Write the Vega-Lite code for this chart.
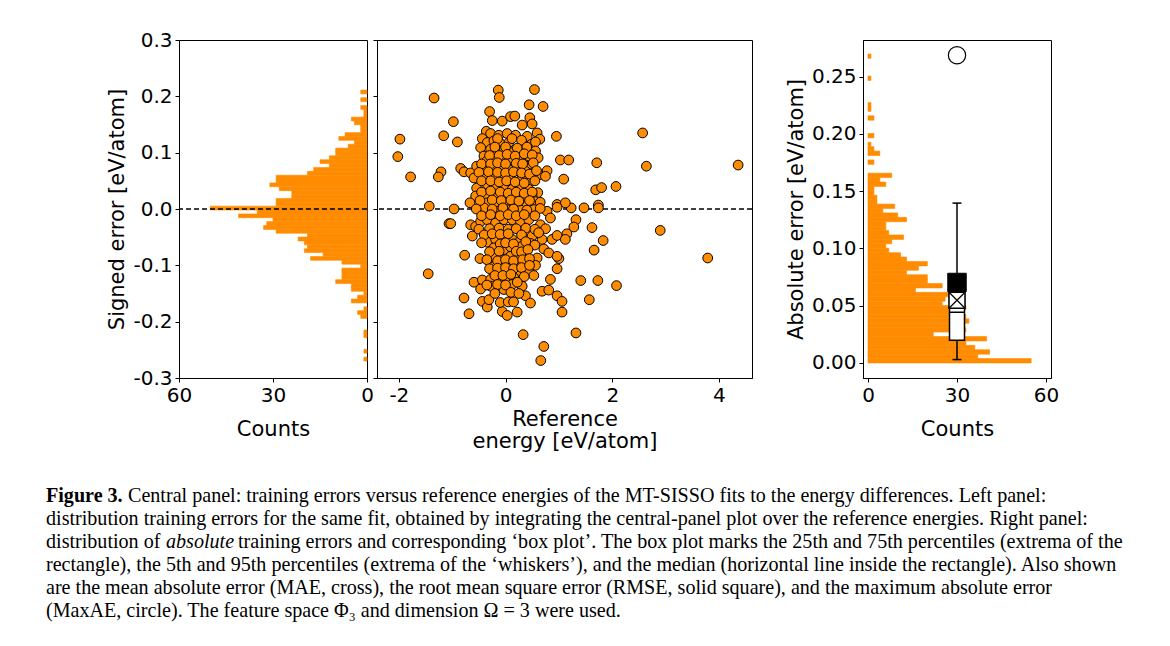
{
"$schema": "https://vega.github.io/schema/vega-lite/v6.json",
"background": "white",
"padding": {"left": 46, "top": 29, "right": 5, "bottom": 5},
"datasets": {
"sig": [
{"b0":0.2043,"b1":0.2112,"n":2},{"b0":0.1906,"b1":0.1975,"n":2},{"b0":0.1768,"b1":0.1837,"n":2},{"b0":0.1700,"b1":0.1768,"n":1},{"b0":0.1631,"b1":0.1700,"n":1},
{"b0":0.1562,"b1":0.1631,"n":5},{"b0":0.1494,"b1":0.1562,"n":4},{"b0":0.1425,"b1":0.1494,"n":2},{"b0":0.1356,"b1":0.1425,"n":2},{"b0":0.1287,"b1":0.1356,"n":7},
{"b0":0.1219,"b1":0.1287,"n":9},{"b0":0.1150,"b1":0.1219,"n":4},{"b0":0.1081,"b1":0.1150,"n":6},{"b0":0.1013,"b1":0.1081,"n":10},{"b0":0.0944,"b1":0.1013,"n":10},
{"b0":0.0875,"b1":0.0944,"n":12},{"b0":0.0807,"b1":0.0875,"n":15},{"b0":0.0738,"b1":0.0807,"n":12},{"b0":0.0669,"b1":0.0738,"n":17},{"b0":0.0600,"b1":0.0669,"n":19},
{"b0":0.0532,"b1":0.0600,"n":29},{"b0":0.0463,"b1":0.0532,"n":29},{"b0":0.0394,"b1":0.0463,"n":31},{"b0":0.0326,"b1":0.0394,"n":28},{"b0":0.0257,"b1":0.0326,"n":24},
{"b0":0.0188,"b1":0.0257,"n":24},{"b0":0.0119,"b1":0.0188,"n":29},{"b0":0.0051,"b1":0.0119,"n":29},{"b0":-0.0018,"b1":0.0051,"n":50},{"b0":-0.0087,"b1":-0.0018,"n":35},
{"b0":-0.0155,"b1":-0.0087,"n":41},{"b0":-0.0224,"b1":-0.0155,"n":30},{"b0":-0.0293,"b1":-0.0224,"n":32},{"b0":-0.0362,"b1":-0.0293,"n":33},{"b0":-0.0430,"b1":-0.0362,"n":29},
{"b0":-0.0499,"b1":-0.0430,"n":19},{"b0":-0.0568,"b1":-0.0499,"n":22},{"b0":-0.0636,"b1":-0.0568,"n":20},{"b0":-0.0705,"b1":-0.0636,"n":19},{"b0":-0.0774,"b1":-0.0705,"n":20},
{"b0":-0.0842,"b1":-0.0774,"n":14},{"b0":-0.0911,"b1":-0.0842,"n":18},{"b0":-0.0980,"b1":-0.0911,"n":8},{"b0":-0.1049,"b1":-0.0980,"n":2},{"b0":-0.1117,"b1":-0.1049,"n":8},
{"b0":-0.1186,"b1":-0.1117,"n":8},{"b0":-0.1255,"b1":-0.1186,"n":8},{"b0":-0.1323,"b1":-0.1255,"n":10},{"b0":-0.1392,"b1":-0.1323,"n":5},{"b0":-0.1461,"b1":-0.1392,"n":5},
{"b0":-0.1530,"b1":-0.1461,"n":1},{"b0":-0.1598,"b1":-0.1530,"n":3},{"b0":-0.1667,"b1":-0.1598,"n":5},{"b0":-0.1804,"b1":-0.1736,"n":1},{"b0":-0.1873,"b1":-0.1804,"n":3},
{"b0":-0.1942,"b1":-0.1873,"n":2},{"b0":-0.2217,"b1":-0.2148,"n":1},{"b0":-0.2285,"b1":-0.2217,"n":1},{"b0":-0.2560,"b1":-0.2491,"n":1},{"b0":-0.2698,"b1":-0.2629,"n":1}
],
"abs": [
{"b0":0,"b1":0.00385,"n":55},{"b0":0.00385,"b1":0.00771,"n":37},{"b0":0.00771,"b1":0.01156,"n":41},{"b0":0.01156,"b1":0.01542,"n":36},{"b0":0.01542,"b1":0.01927,"n":33},
{"b0":0.01927,"b1":0.02312,"n":40},{"b0":0.02312,"b1":0.02698,"n":22},{"b0":0.02698,"b1":0.03083,"n":33},{"b0":0.03083,"b1":0.03469,"n":32},{"b0":0.03469,"b1":0.03854,"n":34},
{"b0":0.03854,"b1":0.04239,"n":33},{"b0":0.04239,"b1":0.04625,"n":29},{"b0":0.04625,"b1":0.05010,"n":33},{"b0":0.05010,"b1":0.05396,"n":25},{"b0":0.05396,"b1":0.05781,"n":26},
{"b0":0.05781,"b1":0.06166,"n":29},{"b0":0.06166,"b1":0.06552,"n":16},{"b0":0.06552,"b1":0.06937,"n":25},{"b0":0.06937,"b1":0.07323,"n":20},{"b0":0.07323,"b1":0.07708,"n":20},
{"b0":0.07708,"b1":0.08093,"n":13},{"b0":0.08093,"b1":0.08479,"n":17},{"b0":0.08479,"b1":0.08864,"n":20},{"b0":0.08864,"b1":0.09250,"n":13},{"b0":0.09250,"b1":0.09635,"n":11},
{"b0":0.09635,"b1":0.10020,"n":7},{"b0":0.10020,"b1":0.10406,"n":6},{"b0":0.10406,"b1":0.10791,"n":8},{"b0":0.10791,"b1":0.11177,"n":12},{"b0":0.11177,"b1":0.11562,"n":7},
{"b0":0.11562,"b1":0.11947,"n":6},{"b0":0.11947,"b1":0.12333,"n":6},{"b0":0.12333,"b1":0.12718,"n":13},{"b0":0.12718,"b1":0.13104,"n":10},{"b0":0.13104,"b1":0.13489,"n":5},
{"b0":0.13489,"b1":0.13874,"n":9},{"b0":0.13874,"b1":0.14260,"n":3},{"b0":0.14260,"b1":0.14645,"n":3},{"b0":0.14645,"b1":0.15031,"n":2},{"b0":0.15031,"b1":0.15416,"n":2},
{"b0":0.15416,"b1":0.15801,"n":6},{"b0":0.15801,"b1":0.16187,"n":4},{"b0":0.16187,"b1":0.16572,"n":8},{"b0":0.17343,"b1":0.17728,"n":2},{"b0":0.18114,"b1":0.18499,"n":4},
{"b0":0.18499,"b1":0.18885,"n":2},{"b0":0.18885,"b1":0.19270,"n":1},{"b0":0.19655,"b1":0.20041,"n":2},{"b0":0.21197,"b1":0.21582,"n":2},{"b0":0.21968,"b1":0.22353,"n":1},
{"b0":0.22353,"b1":0.22739,"n":1},{"b0":0.24666,"b1":0.25051,"n":1},{"b0":0.26593,"b1":0.26978,"n":1}
],
"stats": [{"p05":0.003,"q1":0.0198,"med":0.0443,"q3":0.072,"p95":0.1396,"mae":0.0548,"rmse":0.0703,"maxae":0.2687}],
"pts": [
{"e":-2.02,"s":0.093},{"e":-1.98,"s":0.124},{"e":-1.78,"s":0.057},{"e":-1.43,"s":0.005},{"e":-1.34,"s":0.197},{"e":-1.16,"s":0.130},{"e":-1.21,"s":0.066},{"e":-1.26,"s":0.057},{"e":-1.06,"s":-0.026},{"e":-1.45,"s":-0.115},
{"e":1.71,"s":0.082},{"e":1.69,"s":0.034},{"e":1.80,"s":0.038},{"e":2.07,"s":0.040},{"e":2.57,"s":0.135},{"e":2.64,"s":0.076},{"e":4.36,"s":0.078},{"e":2.90,"s":-0.038},{"e":1.23,"s":0.002},{"e":1.47,"s":0.002},
{"e":1.74,"s":0.007},{"e":1.74,"s":0.002},{"e":1.32,"s":-0.019},{"e":1.28,"s":-0.032},{"e":1.62,"s":-0.033},{"e":1.83,"s":-0.056},{"e":1.32,"s":-0.220},{"e":1.57,"s":-0.161},{"e":2.08,"s":-0.136},{"e":1.41,"s":-0.127},
{"e":1.73,"s":-0.127},{"e":1.66,"s":-0.073},{"e":3.79,"s":-0.087},{"e":0.66,"s":-0.269},{"e":1.15,"s":-0.044},{"e":1.0,"s":-0.088},
{"e":-0.137,"s":0.211},{"e":-0.118,"s":0.198},{"e":0.542,"s":0.212},{"e":0.442,"s":0.185},{"e":0.704,"s":0.182},{"e":-0.299,"s":0.173},{"e":-0.978,"s":0.155},{"e":-0.249,"s":0.157},{"e":-0.062,"s":0.156},{"e":0.093,"s":0.164},
{"e":0.174,"s":0.165},{"e":0.312,"s":0.149},{"e":0.455,"s":0.162},{"e":0.498,"s":0.151},{"e":0.953,"s":0.129},{"e":0.592,"s":0.135},{"e":0.642,"s":0.124},{"e":-0.903,"s":0.119},{"e":-0.361,"s":0.138},{"e":-0.280,"s":0.134},
{"e":-0.125,"s":0.131},{"e":0.031,"s":0.134},{"e":0.187,"s":0.131},{"e":0.405,"s":0.129},{"e":-0.436,"s":0.125},{"e":-0.343,"s":0.118},{"e":-0.218,"s":0.121},{"e":-0.093,"s":0.116},{"e":0.062,"s":0.118},{"e":0.330,"s":0.114},
{"e":0.486,"s":0.115},{"e":0.561,"s":0.119},{"e":-0.467,"s":0.109},{"e":-0.280,"s":0.106},{"e":-0.156,"s":0.102},{"e":-0.031,"s":0.106},{"e":0.125,"s":0.100},{"e":0.280,"s":0.091},{"e":0.436,"s":0.094},{"e":0.561,"s":0.103},
{"e":-0.405,"s":0.094},{"e":-0.218,"s":0.088},{"e":-0.062,"s":0.091},{"e":0.093,"s":0.085},{"e":-0.355,"s":0.085},{"e":0.436,"s":0.076},{"e":0.611,"s":0.091},{"e":1.028,"s":0.087},{"e":1.184,"s":0.087},{"e":-0.841,"s":0.072},
{"e":-0.779,"s":0.066},{"e":-0.654,"s":0.064},{"e":-0.542,"s":0.076},{"e":-0.405,"s":0.072},{"e":-0.249,"s":0.076},{"e":-0.093,"s":0.073},{"e":0.062,"s":0.070},{"e":0.218,"s":0.072},{"e":0.374,"s":0.067},{"e":0.517,"s":0.064},
{"e":0.642,"s":0.061},{"e":0.779,"s":0.068},{"e":0.748,"s":0.058},{"e":-0.592,"s":0.055},{"e":-0.374,"s":0.058},{"e":-0.218,"s":0.060},{"e":-0.062,"s":0.060},{"e":0.093,"s":0.055},{"e":0.312,"s":0.055},{"e":0.467,"s":0.050},
{"e":1.090,"s":0.053},{"e":-0.542,"s":0.037},{"e":-0.343,"s":0.044},{"e":-0.187,"s":0.037},{"e":-0.031,"s":0.041},{"e":0.125,"s":0.035},{"e":0.280,"s":0.038},{"e":0.436,"s":0.035},{"e":0.604,"s":0.029},{"e":-0.561,"s":0.023},
{"e":-0.374,"s":0.026},{"e":-0.187,"s":0.023},{"e":-0.031,"s":0.026},{"e":0.125,"s":0.023},{"e":0.312,"s":0.020},{"e":0.498,"s":0.023},{"e":-0.667,"s":0.011},{"e":-0.343,"s":0.011},{"e":-0.156,"s":0.008},{"e":0.031,"s":0.011},
{"e":0.218,"s":0.009},{"e":0.405,"s":0.007},{"e":0.561,"s":0.013},{"e":0.966,"s":0.008},{"e":1.121,"s":0.011},
{"e":-0.966,"s":0.000},{"e":-0.405,"s":0.002},{"e":-0.156,"s":-0.004},{"e":0.031,"s":-0.001},{"e":0.280,"s":-0.002},{"e":0.530,"s":-0.001},{"e":0.779,"s":-0.004},{"e":0.966,"s":0.003},{"e":-1.028,"s":-0.026},{"e":-0.654,"s":-0.028},
{"e":-0.561,"s":-0.031},{"e":-0.467,"s":-0.022},{"e":-0.343,"s":-0.019},{"e":-0.187,"s":-0.025},{"e":-0.031,"s":-0.019},{"e":0.125,"s":-0.019},{"e":0.280,"s":-0.022},{"e":0.436,"s":-0.019},{"e":0.654,"s":-0.028},{"e":0.841,"s":-0.016},
{"e":-0.623,"s":-0.048},{"e":-0.343,"s":-0.059},{"e":-0.187,"s":-0.054},{"e":-0.031,"s":-0.051},{"e":0.125,"s":-0.054},{"e":0.249,"s":-0.059},{"e":0.498,"s":-0.048},{"e":0.685,"s":-0.054},{"e":0.872,"s":-0.054},{"e":0.966,"s":-0.047},
{"e":1.121,"s":-0.054},{"e":-0.218,"s":-0.069},{"e":-0.031,"s":-0.072},{"e":0.093,"s":-0.067},{"e":0.312,"s":-0.066},{"e":0.467,"s":-0.061},{"e":0.717,"s":-0.071},{"e":0.810,"s":-0.078},{"e":0.966,"s":-0.084},{"e":-0.766,"s":-0.082},
{"e":-0.480,"s":-0.088},{"e":-0.218,"s":-0.087},{"e":-0.062,"s":-0.090},{"e":0.093,"s":-0.084},{"e":0.249,"s":-0.084},{"e":0.374,"s":-0.081},{"e":0.592,"s":-0.087},{"e":-0.218,"s":-0.102},{"e":-0.062,"s":-0.096},{"e":0.093,"s":-0.102},
{"e":0.249,"s":-0.099},{"e":0.374,"s":-0.096},{"e":0.561,"s":-0.100},{"e":0.966,"s":-0.106},{"e":-0.125,"s":-0.113},{"e":0.031,"s":-0.110},{"e":0.187,"s":-0.113},{"e":0.280,"s":-0.113},{"e":0.436,"s":-0.110},{"e":0.530,"s":-0.118},
{"e":0.841,"s":-0.125},{"e":-0.592,"s":-0.130},{"e":-0.436,"s":-0.126},{"e":-0.280,"s":-0.125},{"e":-0.093,"s":-0.128},{"e":0.031,"s":-0.125},{"e":0.156,"s":-0.122},{"e":0.312,"s":-0.137},{"e":0.125,"s":-0.134},{"e":-0.467,"s":-0.142},
{"e":-0.280,"s":-0.137},{"e":-0.062,"s":-0.140},{"e":-0.031,"s":-0.143},{"e":0.374,"s":-0.154},{"e":0.467,"s":-0.167},{"e":0.685,"s":-0.146},{"e":0.810,"s":-0.144},{"e":0.966,"s":-0.154},{"e":1.059,"s":-0.164},{"e":-0.779,"s":-0.158},
{"e":-0.436,"s":-0.164},{"e":-0.343,"s":-0.174},{"e":-0.312,"s":-0.161},{"e":-0.685,"s":-0.186},{"e":-0.062,"s":-0.182},{"e":0.031,"s":-0.189},{"e":0.218,"s":-0.183},{"e":1.059,"s":-0.183},{"e":0.330,"s":-0.223},{"e":0.717,"s":-0.244},
{"e":-0.15,"s":0.125},{"e":0.12,"s":0.125},{"e":0.3,"s":0.122},{"e":-0.2,"s":0.11},{"e":0.0,"s":0.11},{"e":0.22,"s":0.108},{"e":0.4,"s":0.11},
{"e":-0.3,"s":0.095},{"e":-0.12,"s":0.095},{"e":0.03,"s":0.097},{"e":0.18,"s":0.094},{"e":0.35,"s":0.098},{"e":0.5,"s":0.096},
{"e":-0.45,"s":0.08},{"e":-0.28,"s":0.08},{"e":-0.15,"s":0.082},{"e":0.0,"s":0.08},{"e":0.2,"s":0.081},{"e":0.32,"s":0.08},{"e":0.52,"s":0.082},
{"e":-0.5,"s":0.065},{"e":-0.32,"s":0.066},{"e":-0.15,"s":0.065},{"e":0.0,"s":0.064},{"e":0.15,"s":0.066},{"e":0.3,"s":0.064},{"e":0.45,"s":0.062},{"e":0.58,"s":0.068},
{"e":-0.45,"s":0.05},{"e":-0.28,"s":0.05},{"e":-0.12,"s":0.048},{"e":0.02,"s":0.05},{"e":0.18,"s":0.048},{"e":0.35,"s":0.046},{"e":0.55,"s":0.05},
{"e":-0.45,"s":0.03},{"e":-0.28,"s":0.032},{"e":-0.1,"s":0.03},{"e":0.05,"s":0.028},{"e":0.2,"s":0.03},{"e":0.35,"s":0.028},{"e":0.5,"s":0.03},
{"e":-0.48,"s":0.015},{"e":-0.25,"s":0.016},{"e":-0.08,"s":0.015},{"e":0.1,"s":0.016},{"e":0.25,"s":0.014},{"e":0.45,"s":0.015},{"e":0.65,"s":0.012},
{"e":-0.55,"s":0.0},{"e":-0.25,"s":0.0},{"e":-0.05,"s":0.002},{"e":0.15,"s":0.0},{"e":0.4,"s":-0.002},{"e":0.65,"s":0.001},
{"e":-0.45,"s":-0.012},{"e":-0.28,"s":-0.01},{"e":-0.1,"s":-0.012},{"e":0.05,"s":-0.01},{"e":0.2,"s":-0.012},{"e":0.35,"s":-0.01},{"e":0.55,"s":-0.012},
{"e":-0.5,"s":-0.036},{"e":-0.3,"s":-0.035},{"e":-0.12,"s":-0.034},{"e":0.05,"s":-0.036},{"e":0.2,"s":-0.035},{"e":0.38,"s":-0.034},{"e":0.55,"s":-0.036},{"e":0.75,"s":-0.035},
{"e":-0.4,"s":-0.046},{"e":-0.25,"s":-0.044},{"e":-0.1,"s":-0.045},{"e":0.05,"s":-0.044},{"e":0.3,"s":-0.046},{"e":0.62,"s":-0.042},
{"e":-0.45,"s":-0.06},{"e":-0.1,"s":-0.062},{"e":0.0,"s":-0.06},{"e":0.15,"s":-0.062},{"e":0.38,"s":-0.058},{"e":0.55,"s":-0.064},
{"e":-0.3,"s":-0.076},{"e":-0.12,"s":-0.075},{"e":0.2,"s":-0.075},{"e":0.3,"s":-0.076},{"e":0.42,"s":-0.072},
{"e":-0.35,"s":-0.09},{"e":-0.15,"s":-0.092},{"e":0.0,"s":-0.09},{"e":0.15,"s":-0.092},{"e":0.32,"s":-0.09},{"e":0.45,"s":-0.088},
{"e":-0.3,"s":-0.106},{"e":-0.15,"s":-0.105},{"e":0.0,"s":-0.104},{"e":0.15,"s":-0.106},{"e":0.3,"s":-0.104},{"e":0.45,"s":-0.1},
{"e":-0.2,"s":-0.118},{"e":-0.05,"s":-0.118},{"e":0.1,"s":-0.116},{"e":0.35,"s":-0.12},
{"e":-0.35,"s":-0.135},{"e":-0.15,"s":-0.134},{"e":0.0,"s":-0.135},{"e":0.22,"s":-0.13},
{"e":-0.2,"s":-0.15},{"e":0.1,"s":-0.148},{"e":0.25,"s":-0.15},
{"e":-0.1,"s":-0.166},{"e":0.05,"s":-0.165},{"e":0.15,"s":-0.165}
],
"cap": [
{"line":1,"seg":"b","t":"Figure 3."},
{"line":1,"seg":"n1","t":"Central panel: training errors versus reference energies of the MT-SISSO fits to the energy differences. Left panel:"},
{"line":2,"seg":"n0","t":"distribution training errors for the same fit, obtained by integrating the central-panel plot over the reference energies. Right panel:"},
{"line":3,"seg":"n0","t":"distribution of"},
{"line":3,"seg":"i","t":"absolute"},
{"line":3,"seg":"n2","t":"training errors and corresponding ‘box plot’. The box plot marks the 25th and 75th percentiles (extrema of the"},
{"line":4,"seg":"n0","t":"rectangle), the 5th and 95th percentiles (extrema of the ‘whiskers’), and the median (horizontal line inside the rectangle). Also shown"},
{"line":5,"seg":"n0","t":"are the mean absolute error (MAE, cross), the root mean square error (RMSE, solid square), and the maximum absolute error"},
{"line":6,"seg":"n0","t":"(MaxAE, circle). The feature space Φ₃ and dimension Ω = 3 were used."}
]
},
"vconcat": [
{
"hconcat": [
{
"hconcat": [
{
"width": 188, "height": 338,
"layer": [
{"data": {"name": "sig"}, "mark": {"type": "rect", "color": "#ff8c00", "stroke": "#ff8c00", "strokeWidth": 0.6},
"encoding": {
"y": {"field": "b0", "type": "quantitative", "scale": {"domain": [-0.3, 0.3], "nice": false, "zero": false},
"axis": {"values": [-0.3,-0.2,-0.1,0,0.1,0.2,0.3], "format": ".1f", "labelExpr": "replace(datum.label, '\u2212', '-')", "title": "Signed error [eV/atom]", "titlePadding": 5}},
"y2": {"field": "b1"},
"x": {"field": "n", "type": "quantitative", "scale": {"domain": [0, 60], "reverse": true, "nice": false},
"axis": {"values": [0, 30, 60], "title": "Counts", "titlePadding": 13}},
"x2": {"datum": 0}
}},
{"data": {"values": [{}]}, "mark": {"type": "rule", "color": "#000", "strokeDash": [5, 3], "strokeWidth": 1.3}, "encoding": {"y": {"datum": 0}}}
]
},
{
"width": 375, "height": 338,
"layer": [
{"data": {"values": [{}]}, "mark": {"type": "rule", "color": "#000", "strokeDash": [5, 3], "strokeWidth": 1.3}, "encoding": {"y": {"datum": 0}}},
{"data": {"name": "pts"}, "mark": {"type": "point", "shape": "circle", "filled": true, "fill": "#ff8c00", "stroke": "#000", "strokeWidth": 1, "size": 95, "opacity": 1},
"encoding": {
"x": {"field": "e", "type": "quantitative", "scale": {"domain": [-2.41, 4.62], "nice": false, "zero": false},
"axis": {"values": [-2, 0, 2, 4], "labelExpr": "replace(datum.label, '\u2212', '-')", "title": ["Reference", "energy [eV/atom]"], "titlePadding": 3, "titleLineHeight": 22}},
"y": {"field": "s", "type": "quantitative", "scale": {"domain": [-0.3, 0.3], "nice": false, "zero": false},
"axis": {"values": [-0.3,-0.2,-0.1,0,0.1,0.2,0.3], "labels": false, "title": null}}
}}
]
}
],
"spacing": 10, "bounds": "flush"
},
{
"width": 188, "height": 338,
"layer": [
{"data": {"name": "abs"}, "mark": {"type": "rect", "color": "#ff8c00", "stroke": "#ff8c00", "strokeWidth": 0.6},
"encoding": {
"y": {"field": "b0", "type": "quantitative", "scale": {"domain": [-0.0131, 0.282], "nice": false, "zero": false},
"axis": {"values": [0, 0.05, 0.1, 0.15, 0.2, 0.25], "format": ".2f", "title": "Absolute error [eV/atom]", "titlePadding": 5}},
"y2": {"field": "b1"},
"x": {"field": "n", "type": "quantitative", "scale": {"domain": [0, 60], "nice": false},
"axis": {"values": [0, 30, 60], "title": "Counts", "titlePadding": 13}},
"x2": {"datum": 0}
}},
{"data": {"name": "stats"}, "mark": {"type": "rule", "color": "#000", "strokeWidth": 1.5}, "encoding": {"x": {"datum": 30}, "y": {"field": "p05", "type": "quantitative"}, "y2": {"field": "p95"}}},
{"data": {"name": "stats"}, "mark": {"type": "tick", "orient": "horizontal", "color": "#000", "size": 9, "thickness": 1.5, "opacity": 1}, "encoding": {"x": {"datum": 30}, "y": {"field": "p05", "type": "quantitative"}}},
{"data": {"name": "stats"}, "mark": {"type": "tick", "orient": "horizontal", "color": "#000", "size": 9, "thickness": 1.5, "opacity": 1}, "encoding": {"x": {"datum": 30}, "y": {"field": "p95", "type": "quantitative"}}},
{"data": {"name": "stats"}, "mark": {"type": "bar", "fill": "white", "stroke": "#000", "strokeWidth": 1.5, "size": 15}, "encoding": {"x": {"datum": 30}, "y": {"field": "q1", "type": "quantitative"}, "y2": {"field": "q3"}}},
{"data": {"name": "stats"}, "mark": {"type": "tick", "orient": "horizontal", "color": "#000", "size": 15, "thickness": 1.5, "opacity": 1}, "encoding": {"x": {"datum": 30}, "y": {"field": "med", "type": "quantitative"}}},
{"data": {"name": "stats"}, "mark": {"type": "point", "shape": "square", "filled": true, "fill": "white", "stroke": "#000", "strokeWidth": 1.5, "size": 256, "opacity": 1}, "encoding": {"x": {"datum": 30}, "y": {"field": "mae", "type": "quantitative"}}},
{"data": {"name": "stats"}, "mark": {"type": "point", "shape": "M-1,-1L1,1M-1,1L1,-1", "filled": false, "stroke": "#000", "strokeWidth": 1.2, "size": 256, "opacity": 1}, "encoding": {"x": {"datum": 30}, "y": {"field": "mae", "type": "quantitative"}}},
{"data": {"name": "stats"}, "mark": {"type": "point", "shape": "square", "filled": true, "fill": "#000", "stroke": "#000", "strokeWidth": 1, "size": 340, "opacity": 1}, "encoding": {"x": {"datum": 30}, "y": {"field": "rmse", "type": "quantitative"}}},
{"data": {"name": "stats"}, "mark": {"type": "point", "shape": "circle", "filled": true, "fill": "white", "stroke": "#000", "strokeWidth": 1.2, "size": 300, "opacity": 1}, "encoding": {"x": {"datum": 30}, "y": {"field": "maxae", "type": "quantitative"}}}
]
}
],
"spacing": 30
},
{
"width": 1100, "height": 137,
"view": {"stroke": null},
"data": {"name": "cap"},
"encoding": {
"y": {"field": "line", "type": "ordinal", "axis": null},
"x": {"datum": 0, "type": "quantitative", "scale": {"domain": [0, 1]}, "axis": null},
"text": {"field": "t"}
},
"layer": [
{"transform": [{"filter": "datum.seg === 'b'"}], "mark": {"type": "text", "align": "left", "baseline": "middle", "font": "Liberation Serif", "fontSize": 20.1, "fontWeight": "bold", "color": "#000", "dx": -133}},
{"transform": [{"filter": "datum.seg === 'n0'"}], "mark": {"type": "text", "align": "left", "baseline": "middle", "font": "Liberation Serif", "fontSize": 20.1, "color": "#000", "dx": -133}},
{"transform": [{"filter": "datum.seg === 'n1'"}], "mark": {"type": "text", "align": "left", "baseline": "middle", "font": "Liberation Serif", "fontSize": 20.1, "color": "#000", "dx": -51}},
{"transform": [{"filter": "datum.seg === 'i'"}], "mark": {"type": "text", "align": "left", "baseline": "middle", "font": "Liberation Serif", "fontSize": 20.1, "fontStyle": "italic", "color": "#000", "dx": -13}},
{"transform": [{"filter": "datum.seg === 'n2'"}], "mark": {"type": "text", "align": "left", "baseline": "middle", "font": "Liberation Serif", "fontSize": 20.1, "color": "#000", "dx": 59}}
]
}
],
"spacing": 33,
"config": {
"font": "DejaVu Sans",
"view": {"stroke": "#000", "strokeWidth": 1},
"axis": {"labelFont": "DejaVu Sans", "labelFontSize": 20, "titleFont": "DejaVu Sans", "titleFontSize": 21, "titleFontWeight": "normal", "labelColor": "#000", "titleColor": "#000", "domainColor": "#000", "tickColor": "#000", "tickSize": 4, "grid": false, "labelPadding": 3, "labelFlush": false, "labelOverlap": false, "domainWidth": 1, "tickWidth": 1}
}
}
